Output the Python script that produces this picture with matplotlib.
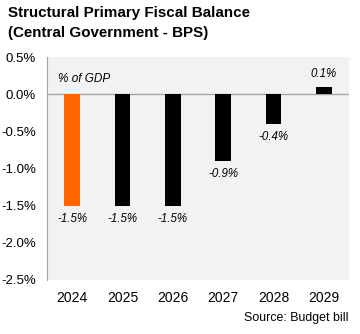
import matplotlib
matplotlib.use("Agg")
import matplotlib.pyplot as plt

plt.rcParams['font.family'] = ['Liberation Sans', 'DejaVu Sans']

years = ["2024", "2025", "2026", "2027", "2028", "2029"]
balance = [-1.5, -1.5, -1.5, -0.9, -0.4, 0.1]
value_labels = ["-1.5%", "-1.5%", "-1.5%", "-0.9%", "-0.4%", "0.1%"]
yticks = [0.5, 0.0, -0.5, -1.0, -1.5, -2.0, -2.5]
ytick_labels = ["0.5%", "0.0%", "-0.5%", "-1.0%", "-1.5%", "-2.0%", "-2.5%"]

colors = ["#ff6600"] + ["#000000"] * 5

fig = plt.figure(figsize=(3.6, 3.34), dpi=100)
ax = fig.add_axes([47 / 360, 1 - 280 / 334, 302 / 360, (280 - 57) / 334])
ax.set_facecolor("#f2f2f2")

x = list(range(len(years)))
ax.bar(x, balance, width=0.31, color=colors, zorder=2)
ax.axhline(0, color="#a6a6a6", linewidth=1, zorder=1)

for xi, v, lab in zip(x, balance, value_labels):
    if v < 0:
        ax.annotate(lab, (xi, v), xytext=(0, -5), textcoords="offset points",
                    ha="center", va="top", fontsize=8.3, style="italic")
    else:
        ax.annotate(lab, (xi, v), xytext=(0, 5), textcoords="offset points",
                    ha="center", va="bottom", fontsize=8.3, style="italic")

ax.text(0.036, 0.9, "% of GDP", transform=ax.transAxes, fontsize=8.5,
        style="italic", ha="left", va="center")

ax.set_xlim(-0.5, len(years) - 0.5)
ax.set_ylim(-2.5, 0.5)
ax.set_yticks(yticks)
ax.set_yticklabels(ytick_labels, fontsize=9.5)
ax.set_xticks(x)
ax.set_xticklabels(years, fontsize=10)
ax.tick_params(axis="y", length=0, pad=8)
ax.tick_params(axis="x", length=0, pad=8)

for s in ["top", "right", "bottom"]:
    ax.spines[s].set_visible(False)
ax.spines["left"].set_color("#a6a6a6")

fig.text(8 / 360, 1 - 13 / 334, "Structural Primary Fiscal Balance",
         fontsize=10.9, fontweight="bold", ha="left", va="center")
fig.text(8 / 360, 1 - 33 / 334, "(Central Government - BPS)",
         fontsize=10.9, fontweight="bold", ha="left", va="center")
fig.text(349 / 360, 1 - 318 / 334, "Source: Budget bill",
         fontsize=8.9, ha="right", va="center")

fig.savefig("out.png", dpi=100, facecolor="white")
